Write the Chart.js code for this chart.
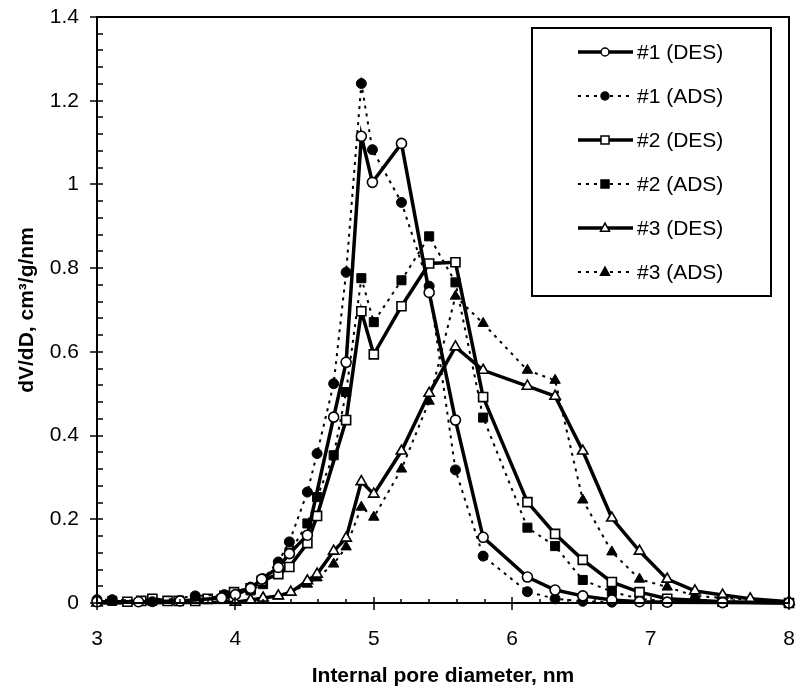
<!DOCTYPE html>
<html>
<head>
<meta charset="utf-8">
<script src="https://cdn.jsdelivr.net/npm/chart.js@4.4.1/dist/chart.umd.min.js"></script>
<style>
  html, body { margin: 0; padding: 0; background: #fff; }
  #wrap { width: 797px; height: 687px; }
</style>
</head>
<body>
<div id="wrap"><canvas id="poreChart" width="797" height="687"></canvas></div>
<script>
// Pore size distributions, x = internal pore diameter (nm), y = dV/dD (cm3/g/nm)
const seriesNames = ['#1 (DES)', '#1 (ADS)', '#2 (DES)', '#2 (ADS)', '#3 (DES)', '#3 (ADS)'];

const des1X = [3.0, 3.3, 3.6, 3.9, 4.0, 4.11, 4.19, 4.31, 4.39, 4.52, 4.71, 4.80, 4.91, 4.99, 5.20, 5.40, 5.59, 5.79, 6.11, 6.31, 6.51, 6.72, 6.92, 7.12, 7.52, 8.0];
const des1Y = [0.003, 0.003, 0.005, 0.012, 0.02, 0.035, 0.057, 0.085, 0.118, 0.162, 0.444, 0.575, 1.115, 1.005, 1.098, 0.742, 0.437, 0.157, 0.062, 0.031, 0.017, 0.007, 0.003, 0.002, 0.001, 0.0];

const ads1X = [3.0, 3.11, 3.4, 3.71, 3.92, 4.11, 4.20, 4.31, 4.39, 4.52, 4.59, 4.71, 4.80, 4.91, 4.99, 5.20, 5.40, 5.59, 5.79, 6.11, 6.31, 6.51, 6.72];
const ads1Y = [0.008, 0.008, 0.003, 0.017, 0.02, 0.038, 0.058, 0.098, 0.146, 0.265, 0.357, 0.524, 0.79, 1.241, 1.083, 0.957, 0.757, 0.318, 0.112, 0.027, 0.01, 0.004, 0.002];

const des2X = [3.22, 3.32, 3.40, 3.51, 3.59, 3.71, 3.80, 3.92, 3.99, 4.11, 4.19, 4.31, 4.39, 4.52, 4.59, 4.80, 4.91, 5.00, 5.20, 5.40, 5.59, 5.79, 6.11, 6.31, 6.51, 6.72, 6.92, 7.12, 7.52, 8.0];
const des2Y = [0.003, 0.005, 0.01, 0.005, 0.005, 0.005, 0.01, 0.017, 0.026, 0.035, 0.053, 0.069, 0.086, 0.143, 0.208, 0.437, 0.697, 0.594, 0.709, 0.811, 0.814, 0.492, 0.241, 0.165, 0.103, 0.05, 0.026, 0.01, 0.003, 0.0];

const ads2X = [3.11, 3.4, 3.71, 3.92, 4.11, 4.20, 4.31, 4.39, 4.52, 4.59, 4.71, 4.80, 4.91, 5.00, 5.20, 5.40, 5.59, 5.79, 6.11, 6.31, 6.51, 6.72, 6.92, 7.12];
const ads2Y = [0.005, 0.005, 0.008, 0.015, 0.03, 0.045, 0.08, 0.12, 0.19, 0.253, 0.353, 0.504, 0.776, 0.671, 0.771, 0.876, 0.766, 0.443, 0.18, 0.136, 0.055, 0.027, 0.01, 0.004];

const des3X = [3.0, 4.0, 4.11, 4.20, 4.31, 4.40, 4.52, 4.59, 4.71, 4.80, 4.91, 5.00, 5.20, 5.40, 5.59, 5.79, 6.11, 6.31, 6.51, 6.72, 6.92, 7.12, 7.32, 7.52, 7.72, 8.0];
const des3Y = [0.0, 0.002, 0.007, 0.012, 0.017, 0.026, 0.053, 0.069, 0.124, 0.155, 0.29, 0.26, 0.363, 0.501, 0.612, 0.556, 0.518, 0.494, 0.363, 0.203, 0.124, 0.057, 0.029, 0.019, 0.01, 0.003];

const ads3X = [4.0, 4.11, 4.20, 4.31, 4.40, 4.52, 4.59, 4.71, 4.80, 4.91, 5.00, 5.20, 5.40, 5.59, 5.79, 6.11, 6.31, 6.51, 6.72, 6.92, 7.12, 7.32, 7.52, 7.72, 8.0];
const ads3Y = [0.002, 0.007, 0.012, 0.017, 0.026, 0.045, 0.06, 0.093, 0.134, 0.229, 0.205, 0.32, 0.482, 0.733, 0.668, 0.556, 0.532, 0.246, 0.122, 0.057, 0.038, 0.017, 0.012, 0.008, 0.003];

// axis ranges / tick steps
const xRange = [3, 8];
const yRange = [0, 1.4];
const xMajor = 1, xMinor = 0.2;
const yMajor = 0.2, yMinor = 0.04;

const FONT = '"Liberation Sans", Arial, Helvetica, sans-serif';

const toPoints = (xs, ys) => xs.map((x, i) => ({ x, y: ys[i] }));

// solid line + open marker for desorption, dotted + filled for adsorption
const desStyle = (label, xs, ys, marker, r) => ({
  label,
  data: toPoints(xs, ys),
  borderColor: '#000',
  borderWidth: 3.5,
  pointStyle: marker,
  pointRadius: r,
  pointBackgroundColor: '#fff',
  pointBorderColor: '#000',
  pointBorderWidth: 1.6,
  tension: 0,
  clip: false,
});
const adsStyle = (label, xs, ys, marker, r) => ({
  label,
  data: toPoints(xs, ys),
  borderColor: '#000',
  borderWidth: 2,
  borderDash: [3, 5],
  pointStyle: marker,
  pointRadius: r,
  pointBackgroundColor: '#000',
  pointBorderColor: '#000',
  pointBorderWidth: 1,
  tension: 0,
  clip: false,
});

// little helper for legend markers
const drawMarker = (ctx, style, x, y, r, fill) => {
  ctx.beginPath();
  if (style === 'circle') {
    ctx.arc(x, y, r, 0, Math.PI * 2);
  } else if (style === 'rect') {
    ctx.rect(x - r, y - r, 2 * r, 2 * r);
  } else {
    ctx.moveTo(x, y - r * 1.1);
    ctx.lineTo(x + r, y + r * 0.7);
    ctx.lineTo(x - r, y + r * 0.7);
    ctx.closePath();
  }
  ctx.fillStyle = fill;
  ctx.fill();
  ctx.lineWidth = 1.5;
  ctx.strokeStyle = '#000';
  ctx.stroke();
};

// frame around the plot, inward ticks, and the boxed legend
const frameAndLegend = {
  id: 'frameAndLegend',
  afterDraw(chart) {
    const { ctx, chartArea: a, scales: { x, y } } = chart;
    ctx.save();
    ctx.setLineDash([]);
    ctx.strokeStyle = '#000';
    ctx.lineWidth = 2;
    ctx.strokeRect(a.left, a.top, a.right - a.left, a.bottom - a.top);

    ctx.lineWidth = 1.5;
    ctx.beginPath();
    const nx = Math.round((xRange[1] - xRange[0]) / xMinor);
    for (let i = 0; i <= nx; i++) {
      const px = Math.round(x.getPixelForValue(xRange[0] + i * xMinor));
      const major = i % Math.round(xMajor / xMinor) === 0;
      ctx.moveTo(px, a.bottom - (major ? 6 : 4));
      ctx.lineTo(px, a.bottom + (major ? 7 : 0));
    }
    const ny = Math.round((yRange[1] - yRange[0]) / yMinor);
    for (let i = 0; i <= ny; i++) {
      const py = Math.round(y.getPixelForValue(yRange[0] + i * yMinor));
      const major = i % Math.round(yMajor / yMinor) === 0;
      ctx.moveTo(a.left - (major ? 7 : 0), py);
      ctx.lineTo(a.left + 6, py);
    }
    ctx.stroke();

    // legend box
    const box = { left: 532, top: 28, width: 239, height: 268 };
    ctx.fillStyle = '#fff';
    ctx.fillRect(box.left, box.top, box.width, box.height);
    ctx.lineWidth = 2;
    ctx.strokeRect(box.left, box.top, box.width, box.height);

    ctx.font = '21px ' + FONT;
    ctx.textBaseline = 'middle';
    ctx.textAlign = 'left';
    chart.data.datasets.forEach((ds, i) => {
      const rowY = 52 + i * 44;
      ctx.beginPath();
      ctx.setLineDash(ds.borderDash || []);
      ctx.lineWidth = ds.borderWidth;
      ctx.strokeStyle = '#000';
      ctx.moveTo(578, rowY);
      ctx.lineTo(633, rowY);
      ctx.stroke();
      ctx.setLineDash([]);
      const r = ds.pointStyle === 'triangle' ? 4.5 : 4;
      drawMarker(ctx, ds.pointStyle, 605, rowY, r, ds.pointBackgroundColor);
      ctx.fillStyle = '#000';
      ctx.fillText(ds.label, 637, rowY + 1);
    });
    ctx.restore();
  },
};

const ctx = document.getElementById('poreChart').getContext('2d');

new Chart(ctx, {
  type: 'line',
  data: {
    datasets: [
      desStyle(seriesNames[0], des1X, des1Y, 'circle', 5),
      adsStyle(seriesNames[1], ads1X, ads1Y, 'circle', 5),
      desStyle(seriesNames[2], des2X, des2Y, 'rect', 6.4),
      adsStyle(seriesNames[3], ads2X, ads2Y, 'rect', 6.4),
      desStyle(seriesNames[4], des3X, des3Y, 'triangle', 6),
      adsStyle(seriesNames[5], ads3X, ads3Y, 'triangle', 6),
    ],
  },
  options: {
    responsive: false,
    animation: false,
    devicePixelRatio: 1,
    layout: { padding: { top: 17, right: 7, left: 0, bottom: 0 } },
    plugins: {
      legend: { display: false },
      tooltip: { enabled: false },
    },
    scales: {
      x: {
        type: 'linear',
        min: xRange[0],
        max: xRange[1],
        grid: { display: false, drawTicks: false },
        border: { display: false },
        ticks: {
          stepSize: xMajor,
          color: '#000',
          padding: 24,
          font: { family: FONT, size: 21 },
        },
        title: {
          display: true,
          text: 'Internal pore diameter, nm',
          color: '#000',
          font: { family: FONT, size: 21, weight: 'bold', lineHeight: 1 },
          padding: { top: 0, bottom: 0 },
        },
        afterFit(s) {
          s.height = 84;
          s.paddingLeft = 0;
          s.paddingRight = 0;
        },
      },
      y: {
        min: yRange[0],
        max: yRange[1],
        grid: { display: false, drawTicks: false },
        border: { display: false },
        ticks: {
          stepSize: yMajor,
          color: '#000',
          padding: 18,
          font: { family: FONT, size: 21 },
          callback: (v) => String(Math.round(v * 100) / 100),
        },
        title: {
          display: true,
          text: 'dV/dD, cm³/g/nm',
          color: '#000',
          font: { family: FONT, size: 21, weight: 'bold', lineHeight: 1 },
          padding: { top: 17, bottom: 0 },
        },
        afterFit(s) {
          s.width = 97;
          s.paddingTop = 0;
          s.paddingBottom = 0;
        },
      },
    },
  },
  plugins: [frameAndLegend],
});
</script>
</body>
</html>
